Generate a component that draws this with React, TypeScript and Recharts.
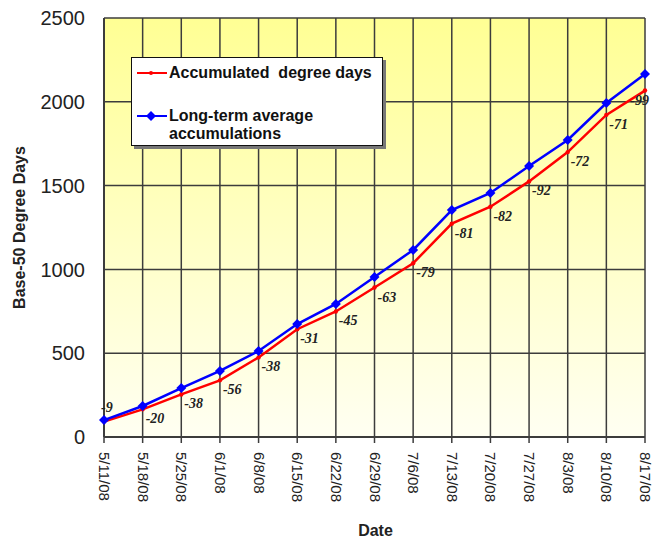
import React from 'react';
import { LineChart, Line, XAxis, YAxis, CartesianGrid, LabelList, Label } from 'recharts';

const dates = ['5/11/08', '5/18/08', '5/25/08', '6/1/08', '6/8/08', '6/15/08', '6/22/08', '6/29/08', '7/6/08', '7/13/08', '7/20/08', '7/27/08', '8/3/08', '8/10/08', '8/17/08'];
const accumulated = [92, 165, 254, 338, 475, 643, 749, 892, 1037, 1273, 1374, 1525, 1700, 1922, 2067];
const longTermAverage = [101, 185, 292, 394, 513, 674, 794, 955, 1116, 1354, 1456, 1617, 1772, 1993, 2166];
const departures = [-9, -20, -38, -56, -38, -31, -45, -63, -79, -81, -82, -92, -72, -71, -99];
const yTicks = [0, 500, 1000, 1500, 2000, 2500];

const data = dates.map((date, i) => ({
  date,
  accumulated: accumulated[i],
  average: longTermAverage[i],
  departure: departures[i],
}));

const ARIAL = '"Liberation Sans", Arial, sans-serif';
const GRID = '#3c3c3c';

// rotated date ticks, reading top to bottom
const DateTick = ({ x, y, payload }: any) => (
  <text
    x={x}
    y={y}
    transform={`rotate(90, ${x}, ${y})`}
    textAnchor="start"
    dy="0.33em"
    fontSize={15}
    fontFamily={ARIAL}
    fill="#222"
  >
    {payload.value}
  </text>
);

const DiamondDot = ({ cx, cy }: any) => {
  if (cx == null || cy == null) return null;
  const r = 5;
  return <polygon points={`${cx},${cy - r} ${cx + r},${cy} ${cx},${cy + r} ${cx - r},${cy}`} fill="#0000ff" />;
};

const SmallDot = ({ cx, cy }: any) => {
  if (cx == null || cy == null) return null;
  return <circle cx={cx} cy={cy} r={2.2} fill="#ff0000" />;
};

// departure labels under the red line
const DepartureLabel = ({ x, y, value, index }: any) => {
  let dx = 3;
  let dy = 14;
  let anchor: 'start' | 'end' = 'start';
  if (index === 0) {
    dy = -10;
    dx = -3;
  } else if (index === dates.length - 1) {
    anchor = 'end';
    dx = 4;
  }
  return (
    <text
      x={x + dx}
      y={y + dy}
      textAnchor={anchor}
      fontSize={14}
      fontWeight="bold"
      fontStyle="italic"
      fontFamily='"Liberation Serif", "Times New Roman", serif'
      fill="#222"
    >
      {value}
    </text>
  );
};

const LegendBox = () => (
  <div
    style={{
      position: 'absolute',
      left: 131,
      top: 57,
      width: 252,
      height: 89,
      boxSizing: 'border-box',
      background: '#fff',
      border: '1px solid #111',
      boxShadow: '3px 3px 0 #777',
      fontFamily: ARIAL,
      fontWeight: 'bold',
      fontSize: 16,
      lineHeight: '18px',
      color: '#111',
    }}
  >
    <svg width={36} height={89} style={{ position: 'absolute', left: 0, top: 0 }}>
      <line x1={5} x2={35} y1={15} y2={15} stroke="#ff0000" strokeWidth={2} />
      <circle cx={19} cy={15} r={2} fill="#ff0000" />
      <line x1={5} x2={35} y1={58} y2={58} stroke="#0000ff" strokeWidth={2} />
      <polygon points="19,53 24,58 19,63 14,58" fill="#0000ff" />
    </svg>
    <div style={{ position: 'absolute', left: 37, top: 6, whiteSpace: 'pre' }}>Accumulated  degree days</div>
    <div style={{ position: 'absolute', left: 37, top: 49 }}>
      Long-term average
      <br />
      accumulations
    </div>
  </div>
);

export default function App() {
  return (
    <div style={{ position: 'absolute', left: 0, top: 0, width: 654, height: 543, background: '#fff' }}>
      <LineChart width={654} height={543} data={data} margin={{ top: 18, right: 9, bottom: 0, left: 0 }}>
        <defs>
          <linearGradient id="plotBg" x1="0" y1="0" x2="0" y2="1">
            <stop offset="0%" stopColor="#ffff94" />
            <stop offset="100%" stopColor="#fffff2" />
          </linearGradient>
        </defs>
        <CartesianGrid stroke={GRID} strokeWidth={1.5} fill="url(#plotBg)" fillOpacity={1} />
        <XAxis
          dataKey="date"
          interval={0}
          tick={<DateTick />}
          tickSize={6}
          tickMargin={9}
          tickLine={{ stroke: GRID, strokeWidth: 1.5 }}
          axisLine={{ stroke: GRID, strokeWidth: 2 }}
          height={106}
        >
          <Label
            value="Date"
            position="insideBottom"
            offset={7}
            dx={1}
            style={{ fontFamily: ARIAL, fontWeight: 'bold', fontSize: 16, fill: '#222' }}
          />
        </XAxis>
        <YAxis
          width={104}
          domain={[0, 2500]}
          ticks={yTicks}
          tickLine={false}
          tickSize={0}
          tickMargin={19}
          axisLine={{ stroke: GRID, strokeWidth: 2 }}
          tick={{ fontFamily: ARIAL, fontSize: 20, fill: '#222' }}
        >
          <Label
            value="Base-50 Degree Days"
            angle={-90}
            position="insideLeft"
            offset={19}
            style={{ fontFamily: ARIAL, fontWeight: 'bold', fontSize: 16, fill: '#222', textAnchor: 'middle' }}
          />
        </YAxis>
        <Line
          type="linear"
          dataKey="accumulated"
          name="Accumulated  degree days"
          stroke="#ff0000"
          strokeWidth={2.5}
          dot={<SmallDot />}
          isAnimationActive={false}
        >
          <LabelList dataKey="departure" content={<DepartureLabel />} />
        </Line>
        <Line
          type="linear"
          dataKey="average"
          name="Long-term average accumulations"
          stroke="#0000ff"
          strokeWidth={2.5}
          dot={<DiamondDot />}
          isAnimationActive={false}
        />
      </LineChart>
      <LegendBox />
    </div>
  );
}
